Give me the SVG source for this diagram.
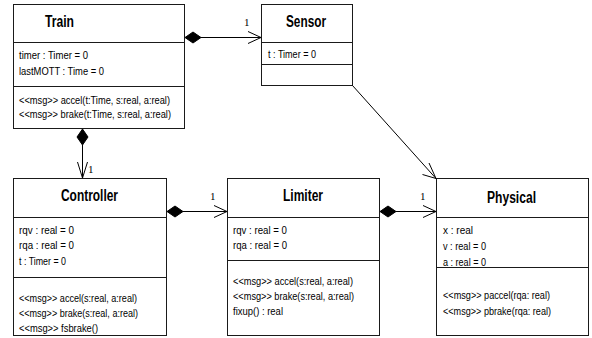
<svg xmlns="http://www.w3.org/2000/svg" width="592" height="338" viewBox="0 0 592 338">
<style>
.box{fill:#fff;stroke:#1a1a1a;stroke-width:1}
.sep{stroke:#1a1a1a;stroke-width:1}
.t{font-family:"Liberation Sans",Arial,sans-serif;font-size:11.5px;fill:#000}
.h{font-family:"Liberation Sans",Arial,sans-serif;font-size:16px;font-weight:bold;fill:#000}
.m{font-family:"Liberation Serif","Times New Roman",serif;font-size:11px;fill:#000}
.ln{stroke:#000;stroke-width:1;fill:none}
.dia{fill:#000;stroke:#000;stroke-width:1}
</style>
<g id="Train">
<rect class="box" x="13.5" y="4.5" width="171" height="124"/>
<line class="sep" x1="13.5" y1="42.5" x2="184.5" y2="42.5"/>
<line class="sep" x1="13.5" y1="86.5" x2="184.5" y2="86.5"/>
<text class="h" x="45" y="27" textLength="29" lengthAdjust="spacingAndGlyphs">Train</text>
<text class="t" x="19" y="59" textLength="69" lengthAdjust="spacingAndGlyphs">timer : Timer = 0</text>
<text class="t" x="19" y="75" textLength="85" lengthAdjust="spacingAndGlyphs">lastMOTT : Time = 0</text>
<text class="t" x="19" y="103.5" textLength="151" lengthAdjust="spacingAndGlyphs">&lt;&lt;msg&gt;&gt; accel(t:Time, s:real, a:real)</text>
<text class="t" x="19" y="118" textLength="152" lengthAdjust="spacingAndGlyphs">&lt;&lt;msg&gt;&gt; brake(t:Time, s:real, a:real)</text>
</g>
<g id="Sensor">
<rect class="box" x="261.5" y="4.5" width="91" height="81"/>
<line class="sep" x1="261.5" y1="42.5" x2="352.5" y2="42.5"/>
<line class="sep" x1="261.5" y1="64.5" x2="352.5" y2="64.5"/>
<text class="h" x="286" y="27" textLength="40" lengthAdjust="spacingAndGlyphs">Sensor</text>
<text class="t" x="268" y="58" textLength="48" lengthAdjust="spacingAndGlyphs">t : Timer = 0</text>
</g>
<g id="Controller">
<rect class="box" x="13.5" y="178.5" width="153" height="157"/>
<line class="sep" x1="13.5" y1="217.5" x2="166.5" y2="217.5"/>
<line class="sep" x1="13.5" y1="277.5" x2="166.5" y2="277.5"/>
<text class="h" x="61" y="201" textLength="57" lengthAdjust="spacingAndGlyphs">Controller</text>
<text class="t" x="19" y="234" textLength="55" lengthAdjust="spacingAndGlyphs">rqv : real = 0</text>
<text class="t" x="19" y="249" textLength="55" lengthAdjust="spacingAndGlyphs">rqa : real = 0</text>
<text class="t" x="19" y="264.5" textLength="47" lengthAdjust="spacingAndGlyphs">t : Timer = 0</text>
<text class="t" x="19" y="302" textLength="118" lengthAdjust="spacingAndGlyphs">&lt;&lt;msg&gt;&gt; accel(s:real, a:real)</text>
<text class="t" x="19" y="317" textLength="119" lengthAdjust="spacingAndGlyphs">&lt;&lt;msg&gt;&gt; brake(s:real, a:real)</text>
<text class="t" x="19" y="332" textLength="79" lengthAdjust="spacingAndGlyphs">&lt;&lt;msg&gt;&gt; fsbrake()</text>
</g>
<g id="Limiter">
<rect class="box" x="227.5" y="178.5" width="152" height="157"/>
<line class="sep" x1="227.5" y1="217.5" x2="379.5" y2="217.5"/>
<line class="sep" x1="227.5" y1="260.5" x2="379.5" y2="260.5"/>
<text class="h" x="283" y="201" textLength="40" lengthAdjust="spacingAndGlyphs">Limiter</text>
<text class="t" x="233" y="234" textLength="54" lengthAdjust="spacingAndGlyphs">rqv : real = 0</text>
<text class="t" x="233" y="249" textLength="54" lengthAdjust="spacingAndGlyphs">rqa : real = 0</text>
<text class="t" x="233" y="285" textLength="120" lengthAdjust="spacingAndGlyphs">&lt;&lt;msg&gt;&gt; accel(s:real, a:real)</text>
<text class="t" x="233" y="300" textLength="121" lengthAdjust="spacingAndGlyphs">&lt;&lt;msg&gt;&gt; brake(s:real, a:real)</text>
<text class="t" x="233" y="314.5" textLength="50" lengthAdjust="spacingAndGlyphs">fixup() : real</text>
</g>
<g id="Physical">
<rect class="box" x="436.5" y="178.5" width="152" height="157"/>
<line class="sep" x1="436.5" y1="217.5" x2="588.5" y2="217.5"/>
<line class="sep" x1="436.5" y1="267.5" x2="588.5" y2="267.5"/>
<text class="h" x="487" y="203" textLength="49" lengthAdjust="spacingAndGlyphs">Physical</text>
<text class="t" x="443" y="234" textLength="30" lengthAdjust="spacingAndGlyphs">x : real</text>
<text class="t" x="443" y="250" textLength="43" lengthAdjust="spacingAndGlyphs">v : real = 0</text>
<text class="t" x="443" y="265.5" textLength="43" lengthAdjust="spacingAndGlyphs">a : real = 0</text>
<text class="t" x="443" y="299" textLength="107" lengthAdjust="spacingAndGlyphs">&lt;&lt;msg&gt;&gt; paccel(rqa: real)</text>
<text class="t" x="443" y="314.5" textLength="108" lengthAdjust="spacingAndGlyphs">&lt;&lt;msg&gt;&gt; pbrake(rqa: real)</text>
</g>
<g id="connectors">
<line class="ln" x1="201" y1="37.5" x2="261" y2="37.5"/>
<polygon class="dia" points="185,37.5 193,32 201,37.5 193,43"/>
<polyline class="ln" points="248,31.5 261,37.5 248,43.5"/>
<text class="m" x="244" y="26">1</text>
<line class="ln" x1="82.5" y1="145" x2="82.5" y2="178"/>
<polygon class="dia" points="82.5,129 88,137 82.5,145 77,137"/>
<polyline class="ln" points="77.5,162 82.5,178 87.5,162"/>
<text class="m" x="88" y="173">1</text>
<line class="ln" x1="183" y1="211.5" x2="227" y2="211.5"/>
<polygon class="dia" points="167,211.5 175,206 183,211.5 175,217"/>
<polyline class="ln" points="214,205.5 227,211.5 214,217.5"/>
<text class="m" x="210" y="200">1</text>
<line class="ln" x1="396" y1="211.5" x2="436" y2="211.5"/>
<polygon class="dia" points="380,211.5 388,206 396,211.5 388,217"/>
<polyline class="ln" points="423,205.5 436,211.5 423,217.5"/>
<text class="m" x="420" y="200">1</text>
<line class="ln" x1="352.5" y1="85.5" x2="436" y2="178.5"/>
<polyline class="ln" points="429,163 436,178.5 422.5,174.5"/>
</g>
</svg>
